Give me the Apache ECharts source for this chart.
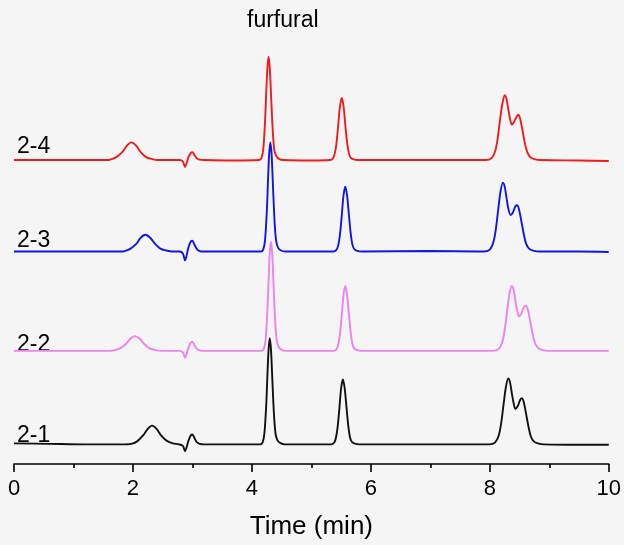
<!DOCTYPE html>
<html>
<head>
<meta charset="utf-8">
<script src="https://cdn.jsdelivr.net/npm/echarts@6/dist/echarts.min.js"></script>
<style>
  html, body { margin: 0; padding: 0; background: #f5f5f5; }
  #chart { width: 624px; height: 545px; }
</style>
</head>
<body>
<div id="chart"></div>
<script>
// sample names, colours and vertical offsets of each trace
var sampleNames = ['2-1', '2-2', '2-3', '2-4'];
var sampleColors = ['#111111', '#ee82ee', '#1414e6', '#ee1c1c'];
var sampleOffsets = [20, 115, 216, 309];
var xTicks = [0, 2, 4, 6, 8, 10];

// [time (min), signal above baseline]
var trace21 = [
  [0, 1], [0.6, 0.5], [1.2, 0], [1.8, 0],
  [1.97, 0.5], [2.07, 3], [2.17, 9], [2.24, 15], [2.32, 19], [2.40, 15.5], [2.48, 8.5], [2.57, 3.5], [2.67, 1], [2.77, 0],
  [2.84, -1.5], [2.875, -7], [2.90, -3.5], [2.93, 3], [2.97, 9], [3.00, 10], [3.03, 7], [3.07, 2.5], [3.12, 0.5], [3.2, 0], [3.7, 0],
  [4.14, 0], [4.18, 2], [4.21, 11], [4.24, 39], [4.26, 69], [4.28, 96], [4.30, 108], [4.32, 97], [4.34, 71], [4.36, 43], [4.38, 22], [4.40, 10], [4.43, 4], [4.48, 1.3], [4.55, 0], [5.0, 0],
  [5.33, 0], [5.38, 1.6], [5.41, 6], [5.44, 17], [5.47, 36], [5.50, 57], [5.53, 66], [5.56, 57], [5.59, 38], [5.62, 19], [5.65, 7], [5.68, 2.6], [5.73, 0.7], [5.81, 0], [7, 0], [7.8, 0],
  [7.99, 0], [8.09, 2], [8.15, 9], [8.19, 21], [8.23, 40], [8.27, 58], [8.31, 67], [8.34, 63], [8.37, 52], [8.40, 42], [8.43, 36], [8.47, 39], [8.51, 45], [8.54, 47], [8.57, 43], [8.61, 31], [8.65, 18], [8.69, 8], [8.74, 3], [8.81, 1], [8.91, 0],
  [9.5, -0.5], [10, -0.5]
];
var trace22 = [
  [0, 0], [1.0, 0], [1.6, 0],
  [1.68, 0.5], [1.78, 2.5], [1.88, 7], [1.95, 12], [2.03, 15], [2.11, 12.5], [2.19, 7], [2.28, 2.5], [2.38, 0.7], [2.48, 0], [2.78, 0],
  [2.84, -1.5], [2.875, -7], [2.90, -3.5], [2.93, 2.7], [2.97, 8], [3.00, 9], [3.03, 6.3], [3.07, 2.2], [3.12, 0.5], [3.2, 0], [3.7, 0],
  [4.16, 0], [4.20, 2], [4.23, 11], [4.26, 40], [4.28, 71], [4.30, 99], [4.32, 111], [4.34, 100], [4.36, 73], [4.38, 44], [4.40, 22], [4.42, 10], [4.45, 4], [4.50, 1], [4.57, 0], [5.0, 0],
  [5.37, 0], [5.42, 1.6], [5.45, 6], [5.48, 17], [5.51, 36], [5.54, 57], [5.57, 66], [5.60, 57], [5.63, 38], [5.66, 19], [5.69, 7], [5.72, 2.6], [5.77, 0.7], [5.85, 0], [7, 0], [7.8, 0],
  [8.05, 0], [8.15, 2], [8.21, 9], [8.25, 21], [8.29, 40], [8.33, 58], [8.37, 66], [8.40, 62], [8.43, 51], [8.46, 41], [8.49, 35], [8.53, 38], [8.57, 44], [8.61, 46], [8.64, 42], [8.68, 30], [8.72, 17], [8.76, 8], [8.81, 3], [8.88, 1], [8.98, 0],
  [10, 0]
];
var trace23 = [
  [0, 0], [1.0, 0], [1.8, 0],
  [1.86, 0.5], [1.96, 3], [2.06, 8], [2.13, 14], [2.21, 17], [2.29, 14], [2.37, 8], [2.46, 3], [2.56, 1], [2.66, 0], [2.78, 0],
  [2.84, -2], [2.875, -9], [2.90, -4.5], [2.93, 3.5], [2.97, 10], [3.00, 11], [3.03, 7.5], [3.07, 3], [3.12, 0.5], [3.2, 0], [3.7, 0],
  [4.15, 0], [4.19, 2], [4.22, 11], [4.25, 40], [4.27, 71], [4.29, 99], [4.31, 111], [4.33, 100], [4.35, 73], [4.37, 44], [4.39, 22], [4.41, 10], [4.44, 4], [4.49, 1], [4.56, 0], [5.0, 0],
  [5.37, 0], [5.42, 1.6], [5.45, 6], [5.48, 17], [5.51, 36], [5.54, 57], [5.57, 66], [5.60, 57], [5.63, 38], [5.66, 19], [5.69, 7], [5.72, 2.6], [5.77, 0.7], [5.85, 0], [7, 0.5], [7.8, 0],
  [7.90, 0], [8.00, 2], [8.06, 9.5], [8.10, 22], [8.14, 42], [8.18, 61], [8.22, 70], [8.25, 66], [8.28, 55], [8.31, 44], [8.35, 37], [8.39, 40], [8.43, 46], [8.46, 47], [8.49, 43], [8.53, 31], [8.57, 18], [8.61, 8], [8.66, 3], [8.73, 1], [8.83, 0],
  [9.5, 0], [10, -0.5]
];
var trace24 = [
  [0, 0], [1.0, 0], [1.55, 0],
  [1.62, 0.5], [1.72, 3], [1.82, 8], [1.89, 14], [1.97, 18], [2.05, 15], [2.13, 8], [2.22, 3], [2.32, 1], [2.42, 0], [2.78, 0],
  [2.84, -1.5], [2.875, -7], [2.90, -3.5], [2.93, 2.5], [2.97, 7], [3.00, 8], [3.03, 5.5], [3.07, 2], [3.12, 0.5], [3.2, 0], [3.7, -0.5],
  [4.12, 0], [4.16, 2], [4.19, 10], [4.22, 38], [4.24, 67], [4.26, 93], [4.28, 105], [4.30, 94], [4.32, 69], [4.34, 42], [4.36, 21], [4.38, 9], [4.41, 4], [4.46, 1], [4.53, 0], [5.0, -0.5],
  [5.31, 0], [5.36, 1.5], [5.39, 6], [5.42, 16], [5.45, 35], [5.48, 54], [5.51, 63], [5.54, 55], [5.57, 36], [5.60, 18], [5.63, 7], [5.66, 2.5], [5.71, 0.6], [5.79, 0], [7, 0], [7.8, 0],
  [7.93, 0], [8.03, 2], [8.09, 9], [8.13, 21], [8.17, 40], [8.21, 57], [8.25, 66], [8.28, 62], [8.31, 52], [8.34, 42], [8.37, 36], [8.41, 39], [8.45, 44], [8.48, 46], [8.51, 42], [8.55, 30], [8.59, 17], [8.63, 8], [8.68, 3], [8.75, 1], [8.85, 0],
  [9.5, -0.5], [10, -1]
];
var traces = [trace21, trace22, trace23, trace24];

var labelFont = 'Liberation Sans, Arial, sans-serif';

var myChart = echarts.init(document.getElementById('chart'));

var series = [];
var graphics = [];
var labelY = [436, 345, 241, 147];
for (var i = 0; i < traces.length; i++) {
  var off = sampleOffsets[i];
  series.push({
    name: sampleNames[i],
    type: 'line',
    data: traces[i].map(function (p) { return [p[0], p[1] + off]; }),
    showSymbol: false,
    smooth: 0.3,
    lineStyle: { color: sampleColors[i], width: 1.9 },
    itemStyle: { color: sampleColors[i] },
    z: 2 + i
  });
  graphics.push({
    type: 'text', x: 17, y: labelY[i],
    style: { text: sampleNames[i], fontSize: 23, fontFamily: labelFont, fill: '#000', verticalAlign: 'middle' }
  });
}
graphics.push({
  type: 'text', x: 247, y: 21,
  style: { text: 'furfural', fontSize: 23, fontFamily: labelFont, fill: '#000', verticalAlign: 'middle' }
});

myChart.setOption({
  backgroundColor: '#f5f5f5',
  animation: false,
  grid: { left: 14, right: 15, top: 42, bottom: 74, containLabel: false },
  xAxis: {
    type: 'value', min: xTicks[0], max: xTicks[xTicks.length - 1], interval: 2,
    name: 'Time (min)', nameLocation: 'middle', nameGap: 50,
    nameTextStyle: { fontSize: 26, fontFamily: labelFont, color: '#000' },
    axisLine: { onZero: false, lineStyle: { color: '#000', width: 1.6 } },
    axisTick: { show: true, length: 8, lineStyle: { color: '#000', width: 1.6 } },
    minorTick: { show: true, splitNumber: 2, length: 4, lineStyle: { color: '#000', width: 1.6 } },
    axisLabel: { fontSize: 22, fontFamily: labelFont, color: '#000', margin: 14 },
    splitLine: { show: false }
  },
  yAxis: { type: 'value', min: 0, max: 429, show: false, splitLine: { show: false } },
  graphic: graphics,
  series: series
});
</script>
</body>
</html>
